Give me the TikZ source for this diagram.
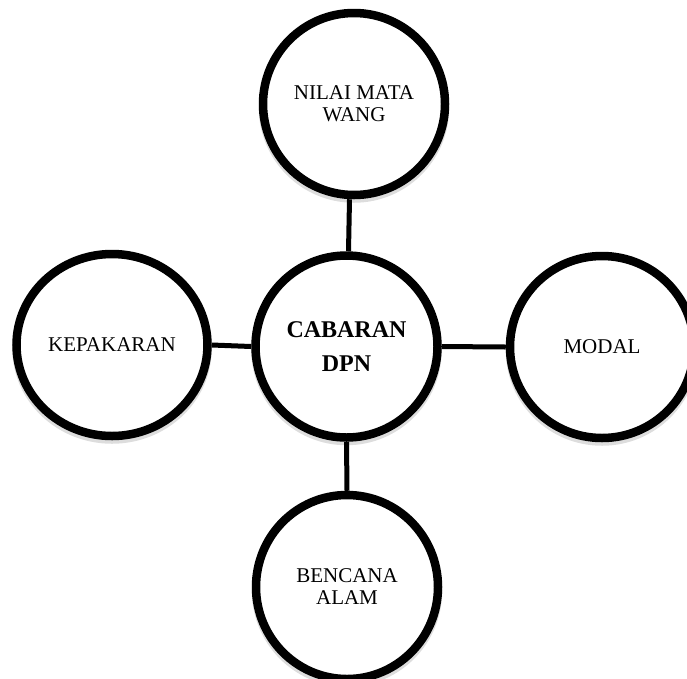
\documentclass[tikz,border=0pt]{standalone}
\usepackage{fontspec}
\setmainfont{Liberation Serif}
\usetikzlibrary{calc,shapes.geometric}
\begin{document}
\begin{tikzpicture}[x=1pt,y=-1pt,
  ringnode/.style={draw=black, line width=8.5pt, fill=white, ellipse, inner sep=0pt, align=center,
    font=\fontsize{21}{22}\selectfont},
  mainnode/.style={ringnode, font=\fontsize{24}{34}\selectfont\bfseries},
  shadowring/.style={draw=black!22, line width=8.5pt, opacity=0.6},
  link/.style={draw=black, line width=5pt}]
\useasboundingbox (0,0) rectangle (687,678);
% shadows
\foreach \cx/\cy/\rx/\ry in {354/104/91/91, 346.5/346.5/91/91, 112/345/95.5/91, 602/347/92/91, 347/587/91/92}
  \draw[shadowring] (\cx,\cy+3.5) ellipse [x radius=\rx, y radius=\ry];
\node[ringnode, minimum width=182pt, minimum height=182pt] (top) at (354,104) {NILAI MATA\\WANG};
\node[mainnode, minimum width=182pt, minimum height=182pt] (center) at (346.5,346.5) {CABARAN\\DPN};
\node[ringnode, minimum width=191pt, minimum height=182pt] (left) at (112,345) {KEPAKARAN};
\node[ringnode, minimum width=184pt, minimum height=182pt] (right) at (602,347) {MODAL};
\node[ringnode, minimum width=182pt, minimum height=184pt] (bottom) at (347,587) {BENCANA\\ALAM};
\draw[link] ($(top.south)+(-4.5,0)$) -- ($(center.north)+(2,0)$);
\draw[link] (left.east) -- (center.west);
\draw[link] (center.east) -- (right.west);
\draw[link] (center.south) -- (bottom.north);
\end{tikzpicture}
\end{document}
